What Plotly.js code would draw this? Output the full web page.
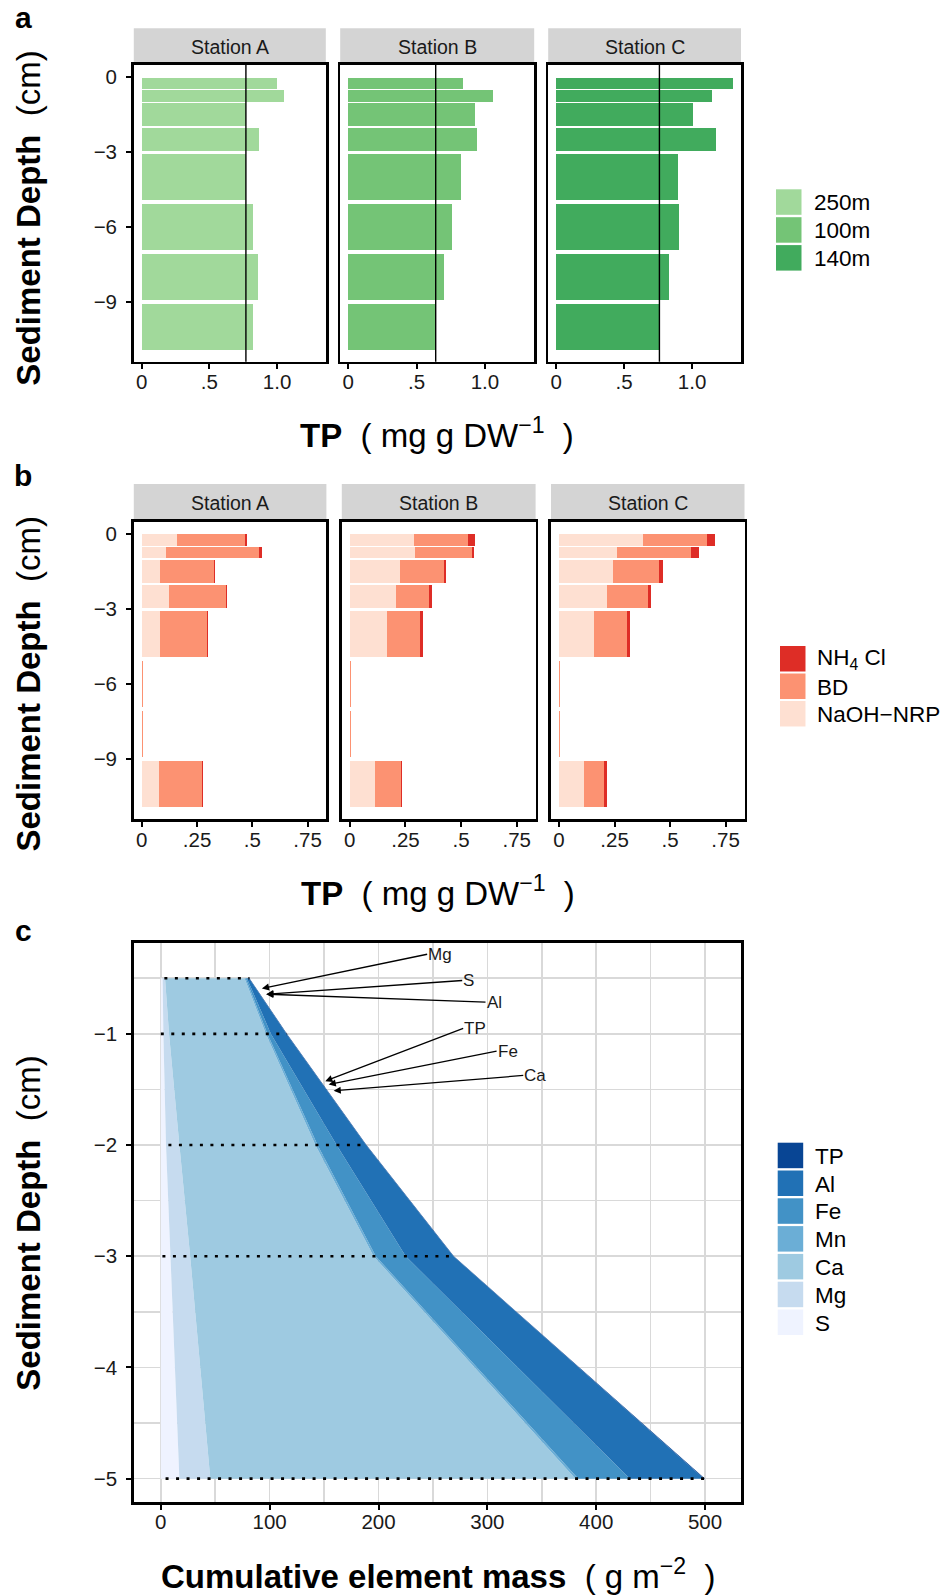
<!DOCTYPE html>
<html><head><meta charset="utf-8">
<script src="https://cdn.plot.ly/plotly-3.0.1.min.js"></script>
<style>html,body{margin:0;padding:0;background:#fff}#chart{width:944px;height:1595px}</style>
</head><body><div id="chart"></div>
<script>
// ================= DATA =================
const stations = ['Station A', 'Station B', 'Station C'];
const siteLabels = ['250m', '100m', '140m'];
// sediment layers (cm)
const layerTop    = [0, -0.5, -1, -2, -3, -5, -7, -9];
const layerBottom = [-0.5, -1, -2, -3, -5, -7, -9, -11];

// panel a: TP (mg g DW-1) per layer
const tpStationA = [1.00, 1.05, 0.77, 0.87, 0.77, 0.82, 0.86, 0.82];
const tpStationB = [0.84, 1.06, 0.93, 0.945, 0.825, 0.76, 0.70, 0.64];
const tpStationC = [1.30, 1.15, 1.005, 1.175, 0.895, 0.905, 0.83, 0.76];
const tpMean = [0.77, 0.64, 0.76];

// panel b: P fractions (mg g DW-1)
const fractionNames = ['NaOH\u2212NRP', 'BD', 'NH<sub>4</sub> Cl'];
const naohA = [0.159, 0.109, 0.082, 0.121, 0.082, 0.001, 0.001, 0.079];
const bdA   = [0.307, 0.421, 0.245, 0.259, 0.213, 0.003, 0.003, 0.192];
const nh4A  = [0.009, 0.013, 0.003, 0.006, 0.003, 0.000, 0.000, 0.004];
const naohB = [0.289, 0.293, 0.225, 0.207, 0.166, 0.001, 0.001, 0.112];
const bdB   = [0.243, 0.257, 0.198, 0.148, 0.150, 0.003, 0.003, 0.118];
const nh4B  = [0.032, 0.009, 0.009, 0.015, 0.013, 0.000, 0.000, 0.004];
const naohC = [0.380, 0.262, 0.245, 0.218, 0.159, 0.001, 0.001, 0.112];
const bdC   = [0.284, 0.334, 0.207, 0.184, 0.148, 0.003, 0.003, 0.091];
const nh4C  = [0.036, 0.036, 0.014, 0.014, 0.014, 0.000, 0.000, 0.014];

// panel c: cumulative element mass (g m-2), boundaries of stacked areas
const cDepth = [-0.5, -1, -2, -3, -5];
const elementNames = ['S', 'Mg', 'Ca', 'Mn', 'Fe', 'Al', 'TP'];
const cumS  = [1.7, 2.4, 4.8, 8.7, 17.1];
const cumMg = [3.9, 7.6, 17.1, 27.0, 45.5];
const cumCa = [76.9, 96.6, 142.0, 195.5, 380.9];
const cumMn = [78.0, 98.0, 144.0, 197.5, 383.5];
const cumFe = [79.1, 101.2, 161.5, 225.0, 431.0];
const cumAl = [81.0, 115.5, 188.5, 268.8, 499.0];
const cumTP = [81.5, 116.0, 189.0, 269.3, 500.0];
const dotStart = [3.3, 0, 7, 1.5, 4.4];

// panel c labels
const labelNames = ['Mg', 'S', 'Al', 'TP', 'Fe', 'Ca'];
const labelTipX  = [92.9, 96.9, 96.9, 151.1, 154.2, 158.8];
const labelTipY  = [-0.592, -0.643, -0.643, -1.425, -1.455, -1.512];
const labelTextX = [244.7, 276.9, 298.3, 277.8, 308.5, 333.0];
const labelTextY = [-0.284, -0.520, -0.715, -0.951, -1.155, -1.374];

// ================= STYLE / LAYOUT =================
const W = 944, H = 1595;
const px = v => v / W, py = v => 1 - v / H;
const FONT = 'Liberation Sans, Arial, Helvetica, sans-serif';
const greens = ['#a1d99b', '#74c476', '#41ab5d'];
const reds = ['#fee0d2', '#fc9272', '#de2d26'];
const blues = ['#eff3ff', '#c6dbef', '#9ecae1', '#6baed6', '#4292c6', '#2171b5', '#084594'];

const aFrames = [[133.8, 325.8], [340.2, 534.2], [548.2, 741]];
const aY = [65, 361.7], aStrip = [28.3, 65];
const bFrames = [[133.8, 326.4], [341.8, 535.6], [551, 744.5]];
const bY = [521.7, 819.3], bStrip = [484, 521.7];
const cFrame = [134, 741], cY = [942.7, 1502];

const mids = layerTop.map((t, i) => (t + layerBottom[i]) / 2);
const thick = layerTop.map((t, i) => 0.92 * (t - layerBottom[i]));

const tpByStation = [tpStationA, tpStationB, tpStationC];
const fracByStation = [[naohA, bdA, nh4A], [naohB, bdB, nh4B], [naohC, bdC, nh4C]];
const cumByElement = [cumS, cumMg, cumCa, cumMn, cumFe, cumAl, cumTP];

const ax = n => n === 1 ? '' : String(n);
const traces = [];
const layout = {
  width: W, height: H, margin: {l: 0, r: 0, t: 0, b: 0, pad: 0},
  paper_bgcolor: '#fff', plot_bgcolor: '#fff',
  font: {family: FONT, color: '#1a1a1a'},
  showlegend: false, barmode: 'stack', bargap: 0,
  shapes: [], annotations: []
};

const TICKFONT = {size: 20.5, color: '#1a1a1a', family: FONT};
const baseAxis = {
  showline: true, linecolor: '#000', linewidth: 2.7, mirror: true,
  zeroline: false, showgrid: false, ticks: 'outside', ticklen: 5, tickwidth: 2,
  tickcolor: '#000', tickfont: TICKFONT, fixedrange: true
};
const xTickPos = {ticklabelstandoff: -5};
const yTickPos = {ticklabelstandoff: 5};

function strip(frame, yy, text) {
  layout.shapes.push({type: 'rect', xref: 'paper', yref: 'paper', layer: 'below',
    x0: px(frame[0]), x1: px(frame[1]), y0: py(yy[1]), y1: py(yy[0]),
    fillcolor: '#d4d4d4', line: {width: 0}});
  layout.annotations.push({xref: 'paper', yref: 'paper', x: px((frame[0] + frame[1]) / 2),
    y: py((yy[0] + yy[1]) / 2), text: text, showarrow: false, xanchor: 'center', yanchor: 'middle',
    font: {size: 19.5, color: '#1a1a1a'}});
}

// ---- panel a ----
for (let i = 0; i < 3; i++) {
  const n = i + 1;
  traces.push({type: 'bar', orientation: 'h', x: tpByStation[i], y: mids, width: thick,
    xaxis: 'x' + ax(n), yaxis: 'y' + ax(n), marker: {color: greens[i], line: {width: 0}},
    name: siteLabels[i], hoverinfo: 'x+y'});
  layout['xaxis' + ax(n)] = Object.assign({}, baseAxis, xTickPos, {
    domain: [px(aFrames[i][0]), px(aFrames[i][1])], anchor: 'y' + ax(n),
    range: [-0.058, 1.36], tickvals: [0, 0.5, 1.0], ticktext: ['0', '.5', '1.0']});
  layout['yaxis' + ax(n)] = Object.assign({}, baseAxis, yTickPos, {
    domain: [py(aY[1]), py(aY[0])], anchor: 'x' + ax(n),
    range: [-11.39, 0.49], tickmode: 'linear', tick0: 0, dtick: 3,
    showticklabels: i === 0, ticks: i === 0 ? 'outside' : ''});
  layout.shapes.push({type: 'line', xref: 'x' + ax(n), yref: 'y' + ax(n) + ' domain',
    x0: tpMean[i], x1: tpMean[i], y0: 0, y1: 1, line: {color: '#000', width: 1.4}});
  strip(aFrames[i], aStrip, stations[i]);
}

// ---- panel b ----
for (let i = 0; i < 3; i++) {
  const n = i + 4;
  for (let f = 0; f < 3; f++) {
    traces.push({type: 'bar', orientation: 'h', x: fracByStation[i][f], y: mids, width: thick,
      xaxis: 'x' + ax(n), yaxis: 'y' + ax(n), marker: {color: reds[f], line: {width: 0}},
      name: fractionNames[f], hoverinfo: 'x+y'});
  }
  layout['xaxis' + ax(n)] = Object.assign({}, baseAxis, xTickPos, {
    domain: [px(bFrames[i][0]), px(bFrames[i][1])], anchor: 'y' + ax(n),
    range: [-0.036, 0.835], tickvals: [0, 0.25, 0.5, 0.75], ticktext: ['0', '.25', '.5', '.75']});
  layout['yaxis' + ax(n)] = Object.assign({}, baseAxis, yTickPos, {
    domain: [py(bY[1]), py(bY[0])], anchor: 'x' + ax(n),
    range: [-11.43, 0.49], tickmode: 'linear', tick0: 0, dtick: 3,
    showticklabels: i === 0, ticks: i === 0 ? 'outside' : ''});
  strip(bFrames[i], bStrip, stations[i]);
}

// ---- panel c ----
cumByElement.forEach((arr, k) => {
  traces.push({type: 'scatter', mode: 'lines', x: arr, y: cDepth, xaxis: 'x7', yaxis: 'y7',
    line: {width: 0, color: blues[k]}, fill: k === 0 ? 'tozerox' : 'tonextx',
    fillcolor: blues[k], name: elementNames[k], hoverinfo: 'x+y+name'});
});
cDepth.forEach((d, k) => {
  traces.push({type: 'scatter', mode: 'lines', x: [dotStart[k], cumTP[k]], y: [d, d],
    xaxis: 'x7', yaxis: 'y7', line: {color: '#000', width: 2.6, dash: '3px,7.5px'},
    hoverinfo: 'skip'});
});
const gridStyle = {showgrid: true, gridcolor: '#d9d9d9', gridwidth: 1.6};
layout.xaxis7 = Object.assign({}, baseAxis, gridStyle, xTickPos, {
  domain: [px(cFrame[0]), px(cFrame[1])], anchor: 'y7', range: [-24.6, 533],
  tickmode: 'linear', tick0: 0, dtick: 100,
  minor: {tickmode: 'linear', tick0: 0, dtick: 50, showgrid: true, gridcolor: '#d9d9d9', gridwidth: 1.6, ticks: ''}});
layout.yaxis7 = Object.assign({}, baseAxis, gridStyle, yTickPos, {
  domain: [py(cY[1]), py(cY[0])], anchor: 'x7', range: [-5.21, -0.18],
  tickmode: 'linear', tick0: 0, dtick: 1,
  minor: {tickmode: 'linear', tick0: 0, dtick: 0.5, showgrid: true, gridcolor: '#d9d9d9', gridwidth: 1.6, ticks: ''}});
labelNames.forEach((nm, k) => {
  layout.annotations.push({xref: 'x7', yref: 'y7', axref: 'x7', ayref: 'y7',
    x: labelTipX[k], y: labelTipY[k], ax: labelTextX[k], ay: labelTextY[k],
    text: nm, showarrow: true, arrowhead: 2, arrowsize: 1.1, arrowwidth: 1.3, arrowcolor: '#000',
    standoff: 0, startstandoff: 0, borderpad: 0, xanchor: 'left', yanchor: 'middle',
    font: {size: 17, color: '#1a1a1a'}});
});

// ---- titles ----
const NB = '\u00a0';
const TITLE = 33;
const yTitle = '<b>Sediment Depth</b>' + NB + NB + '(cm)';
[214, 672, 1202].forEach(yc => layout.annotations.push({xref: 'paper', yref: 'paper',
  x: px(29), y: py(yc * 1.0172), text: yTitle, textangle: -90, showarrow: false,
  xanchor: 'center', yanchor: 'middle', font: {size: TITLE, color: '#000'}}));
const tpTitle = '<b>TP</b>' + NB + NB + '(' + NB + 'mg g DW<sup>\u22121</sup>' + NB + NB + ')';
[[437, 433], [438, 891]].forEach(p => layout.annotations.push({xref: 'paper', yref: 'paper',
  x: px(p[0]), y: py(p[1]), text: tpTitle, showarrow: false, xanchor: 'center', yanchor: 'middle',
  font: {size: TITLE, color: '#000'}}));
layout.annotations.push({xref: 'paper', yref: 'paper', x: px(438), y: py(1574),
  text: '<b>Cumulative element mass</b>' + NB + NB + '(' + NB + 'g m<sup>\u22122</sup>' + NB + NB + ')',
  showarrow: false, xanchor: 'center', yanchor: 'middle', font: {size: TITLE, color: '#000'}});
[['a', 17.5], ['b', 475.5], ['c', 930.5]].forEach(p => layout.annotations.push({xref: 'paper', yref: 'paper',
  x: px(23), y: py(p[1]), text: '<b>' + p[0] + '</b>', showarrow: false, xanchor: 'center', yanchor: 'middle',
  font: {size: 30, color: '#000'}}));

// ---- legends (drawn keys) ----
function legend(names, colors, keyX, firstTop, step, textX) {
  names.forEach((nm, k) => {
    const top = firstTop + k * step;
    layout.shapes.push({type: 'rect', xref: 'paper', yref: 'paper', x0: px(keyX), x1: px(keyX + 25.5),
      y0: py(top + 25.5), y1: py(top), fillcolor: colors[k], line: {width: 0}});
    layout.annotations.push({xref: 'paper', yref: 'paper', x: px(textX), y: py(top + 13.5),
      text: nm, showarrow: false, xanchor: 'left', yanchor: 'middle', font: {size: 22.5, color: '#000'}});
  });
}
legend(siteLabels, greens, 776, 189.3, 27.9, 812);
legend(fractionNames.slice().reverse(), reds.slice().reverse(), 780, 646, 27.5, 815);
legend(elementNames.slice().reverse(), blues.slice().reverse(), 777.7, 1142.7, 27.8, 813);

Plotly.newPlot('chart', traces, layout, {staticPlot: true, displayModeBar: false});
</script></body></html>
